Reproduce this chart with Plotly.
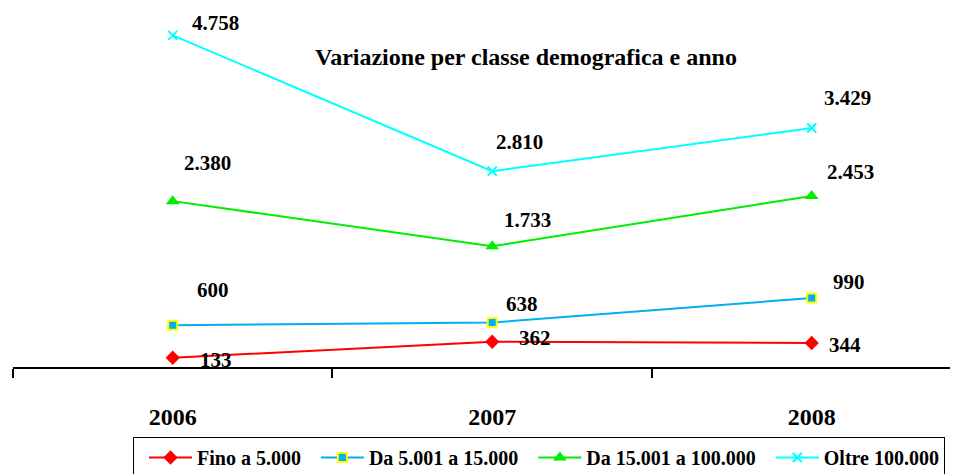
import plotly.graph_objects as go

years = ["2006", "2007", "2008"]
series_names = ["Fino a 5.000", "Da 5.001 a 15.000", "Da 15.001 a 100.000", "Oltre 100.000"]
fino_5000 = [133, 362, 344]
da_5001_15000 = [600, 638, 990]
da_15001_100000 = [2380, 1733, 2453]
oltre_100000 = [4758, 2810, 3429]
title_text = "Variazione per classe demografica e anno"

series_values = [fino_5000, da_5001_15000, da_15001_100000, oltre_100000]

# styles (kept apart from data)
line_colors = ["#FF0000", "#00B0F0", "#00EE00", "#00FFFF"]
marker_styles = [
    dict(symbol="diamond", size=11, color="#FF0000", line=dict(width=0)),
    dict(symbol="square", size=9, color="#00B0F0", line=dict(width=2, color="#FFFF00")),
    dict(symbol="triangle-up", size=12, color="#00EE00", line=dict(width=0)),
    dict(symbol="x-thin", size=9, color="#00FFFF", line=dict(width=2, color="#00FFFF")),
]
# label offsets in pixels (dx, dy) per series per year
label_offsets = [
    [(43, -2), (43, 4), (33, -2)],
    [(40, 35), (30, 19), (37, 16)],
    [(35, 38), (35, 26), (39, 24)],
    [(43, 12), (27, 29), (36, 30)],
]

FONT = "Liberation Serif"
xpos = list(range(len(years)))


def bold(s):
    return "<b>" + s + "</b>"


fig = go.Figure()
for name, vals, lc, ms in zip(series_names, series_values, line_colors, marker_styles):
    fig.add_trace(go.Scatter(
        x=xpos, y=vals, name=bold(name), mode="lines+markers",
        line=dict(color=lc, width=2), marker=ms, cliponaxis=False,
    ))

annotations = []
for vals, offs in zip(series_values, label_offsets):
    for xi, v, (dx, dy) in zip(xpos, vals, offs):
        annotations.append(dict(
            x=xi, y=v, xref="x", yref="y", text=bold(f"{v:,}".replace(",", ".")),
            showarrow=False, xshift=dx, yshift=dy,
            font=dict(family=FONT, size=21, color="black"),
        ))

fig.update_layout(
    width=958, height=474,
    margin=dict(l=5, r=0, t=0, b=115),
    paper_bgcolor="white", plot_bgcolor="white",
    font=dict(family=FONT, color="black"),
    title=dict(text=bold(title_text), x=518 / 958, y=1 - 49 / 474, xref="container", yref="container",
               xanchor="center", yanchor="middle",
               font=dict(family=FONT, size=24, color="black")),
    xaxis=dict(
        range=[-0.5, 2.483], tickmode="array", tickvals=xpos, ticktext=[bold(y) for y in years],
        ticks="", showline=True, linecolor="black", linewidth=1.5, showgrid=False, zeroline=False,
        tickfont=dict(family=FONT, size=24, color="black"),
        ticklabelstandoff=27,
        minor=dict(tickmode="linear", tick0=-0.5, dtick=1, ticks="outside", ticklen=9,
                   tickwidth=1.5, tickcolor="black", showgrid=False),
    ),
    yaxis=dict(range=[0, 5151], visible=False, showgrid=False, zeroline=False),
    showlegend=True,
    legend=dict(
        orientation="h", x=(125 - 5) / 953, y=(359 - 429) / 359, xanchor="left", yanchor="top",
        bordercolor="black", borderwidth=1, bgcolor="white", itemwidth=43, indentation=10,
        font=dict(family=FONT, size=20, color="black"),
    ),
    annotations=annotations,
)

fig.write_html("out.html")
